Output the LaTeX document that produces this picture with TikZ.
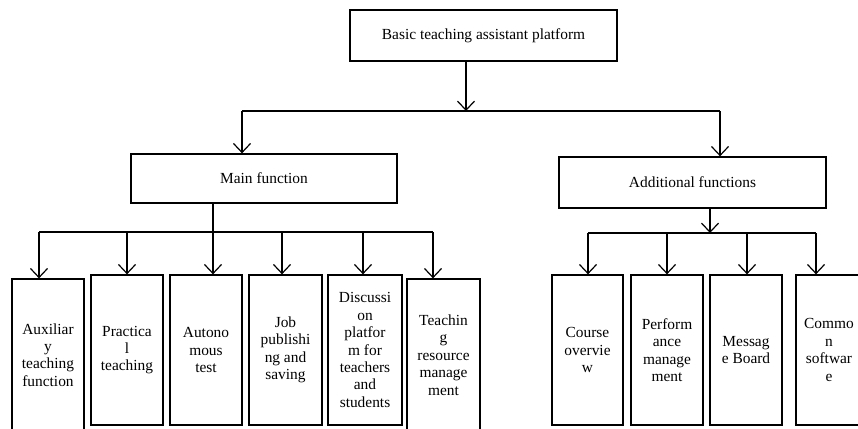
\documentclass[tikz,border=0pt]{standalone}
\usepackage{fontspec}
\setmainfont{Liberation Serif}
\usetikzlibrary{arrows.meta}
\begin{document}
\begin{tikzpicture}[x=1pt,y=-1pt,
  box/.style={draw, line width=1.3pt, inner sep=0pt, align=center,
    font=\fontsize{15.4}{17.4}\selectfont},
  link/.style={line width=1.2pt},
  arr/.style={link, -{Straight Barb[length=9pt,width=17pt,line width=1.2pt]}}]
\useasboundingbox (0,0) rectangle (858,428);
\fill[white] (0,0) rectangle (858,428);

% top levels
\node[box, minimum width=267, minimum height=51] (top) at (483.5,35.5) {Basic teaching assistant platform};
\node[box, minimum width=266, minimum height=49] (main) at (264,178.5) {Main function};
\node[box, minimum width=267, minimum height=51] (add) at (692.5,182.5) {Additional functions};

% main function leaves
\node[box, minimum width=72, minimum height=152] (m1) at (48,355) {Auxiliar\\y\\teaching\\function};
\node[box, minimum width=72, minimum height=150] (m2) at (127,350) {Practica\\l\\teaching};
\node[box, minimum width=72, minimum height=150] (m3) at (206,350) {Autono\\mous\\test};
\node[box, minimum width=73, minimum height=150] (m4) at (285.5,350) {Job\\publishi\\ng and\\saving};
\node[box, minimum width=74, minimum height=150] (m5) at (365,350) {Discussi\\on\\platfor\\m for\\teachers\\and\\students};
\node[box, minimum width=73, minimum height=152] (m6) at (443.5,355) {Teachin\\g\\resource\\manage\\ment};

% additional function leaves
\node[box, minimum width=71, minimum height=150] (a1) at (587.5,350) {Course\\overvie\\w};
\node[box, minimum width=72, minimum height=150] (a2) at (667,350) {Perform\\ance\\manage\\ment};
\node[box, minimum width=72, minimum height=150] (a3) at (746,350) {Messag\\e Board};
\node[box, minimum width=66, minimum height=150] (a4) at (829,350) {Commo\\n\\softwar\\e};

% first split
\coordinate (t0) at (466,111);
\coordinate (tl) at (242,111);
\coordinate (tr) at (720,111);
\draw[arr] (top.south -| t0) -- (t0);
\draw[link] (tl) -- (tr);
\draw[arr] (tl) -- (tl |- main.north);
\draw[arr] (tr) -- (tr |- add.north);

% main function branches
\coordinate (mj) at (213,232);
\coordinate (d1) at (39,232);
\coordinate (d2) at (127,232);
\coordinate (d3) at (213,232);
\coordinate (d4) at (282,232);
\coordinate (d5) at (363,232);
\coordinate (d6) at (433,232);
\draw[link] (main.south -| mj) -- (mj);
\draw[link] (d1) -- (d6);
\draw[arr] (d1) -- (d1 |- m1.north);
\draw[arr] (d2) -- (d2 |- m2.north);
\draw[arr] (d3) -- (d3 |- m3.north);
\draw[arr] (d4) -- (d4 |- m4.north);
\draw[arr] (d5) -- (d5 |- m5.north);
\draw[arr] (d6) -- (d6 |- m6.north);

% additional function branches
\coordinate (aj) at (710,233);
\coordinate (e1) at (588,233);
\coordinate (e2) at (667,233);
\coordinate (e3) at (747,233);
\coordinate (e4) at (816,233);
\draw[arr] (add.south -| aj) -- (aj);
\draw[link] (e1) -- (e4);
\draw[arr] (e1) -- (e1 |- a1.north);
\draw[arr] (e2) -- (e2 |- a2.north);
\draw[arr] (e3) -- (e3 |- a3.north);
\draw[arr] (e4) -- (e4 |- a4.north);
\end{tikzpicture}
\end{document}
